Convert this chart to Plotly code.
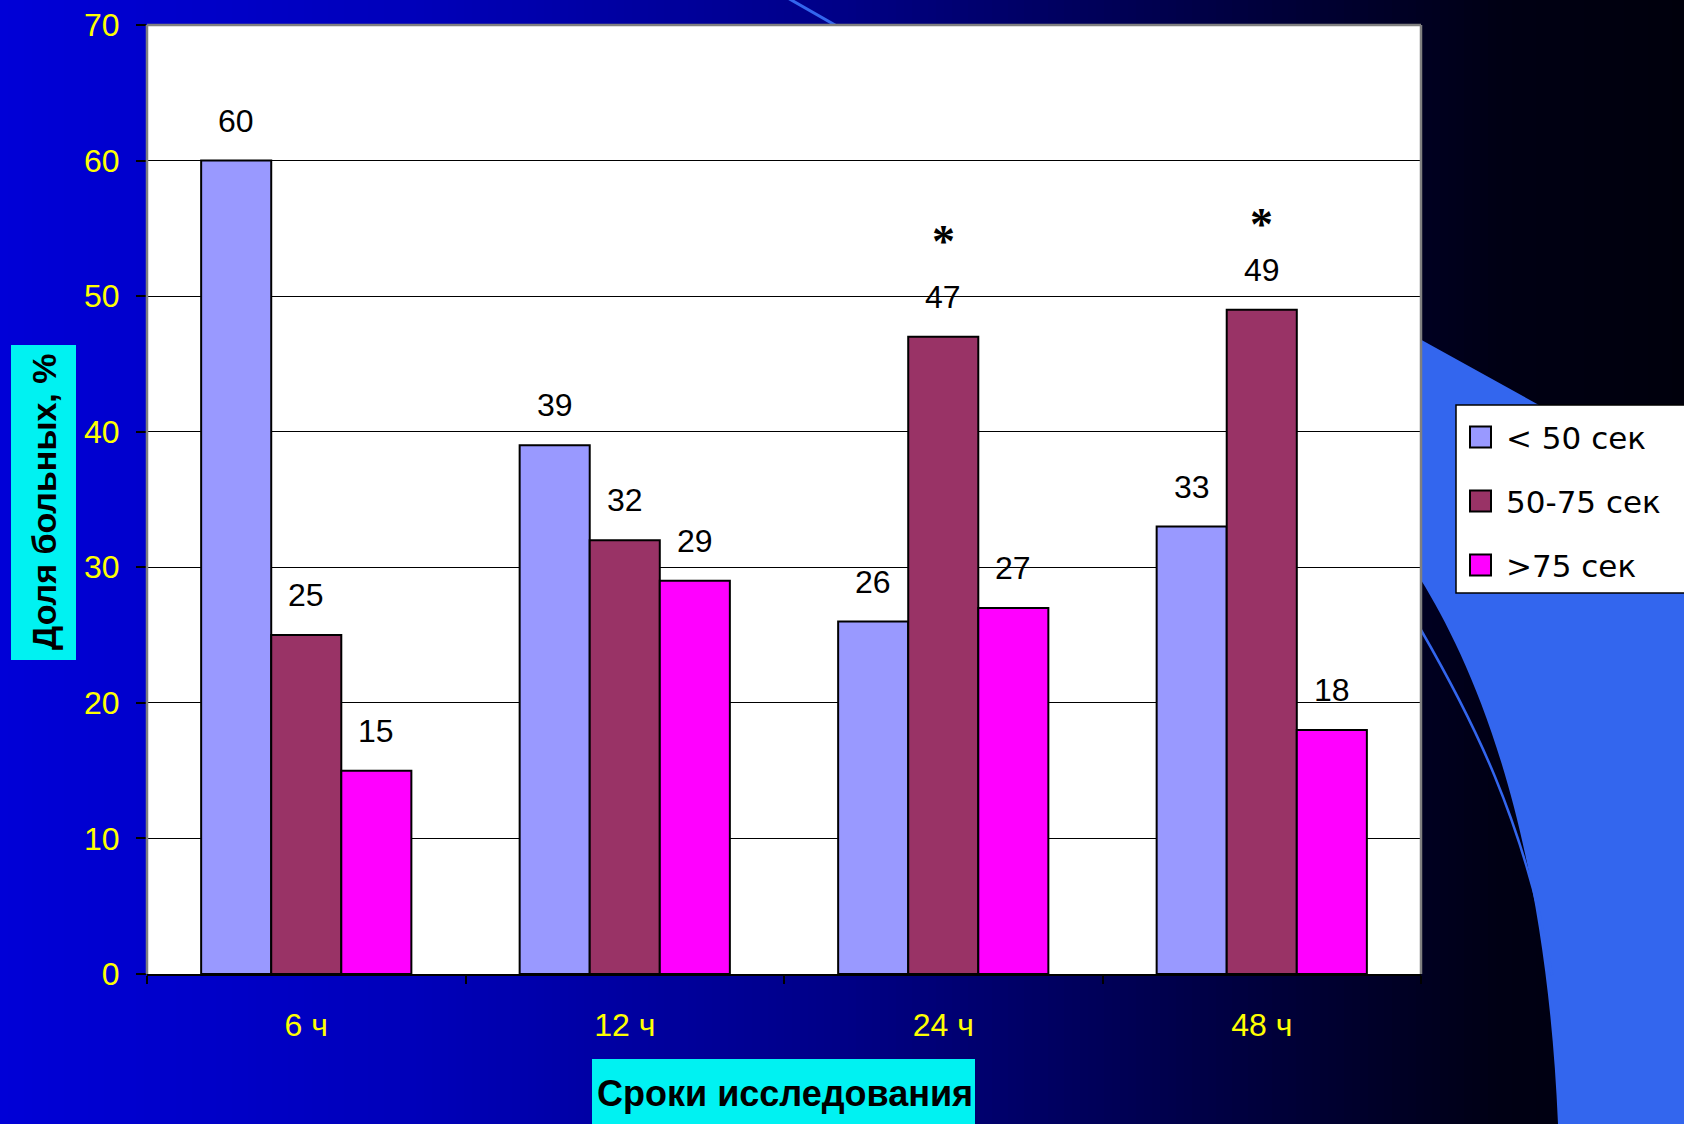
import numpy as np
import plotly.graph_objects as go

# ---- data -------------------------------------------------------------
categories = ["6 ч", "12 ч", "24 ч", "48 ч"]
series_names = ["< 50 сек", "50-75 сек", ">75 сек"]
under_50 = [60, 39, 26, 33]
from_50_to_75 = [25, 32, 47, 49]
over_75 = [15, 29, 27, 18]
y_ticks = [0, 10, 20, 30, 40, 50, 60, 70]
significant = ["24 ч", "48 ч"]          # 50-75 сек bars marked with "*"

# ---- styling ----------------------------------------------------------
bar_colors = ["#9999FF", "#993366", "#FF00FF"]
FIG_W, FIG_H = 1684, 1124
PLOT_L, PLOT_R, PLOT_T, PLOT_B = 147, 1421, 25, 974
BARGAP = 0.34
FONT = "Arial, Liberation Sans, sans-serif"
YELLOW = "#FFFF00"
CYAN = "#00F2F2"
DECOR_BLUE = "#3366EE"
star_shift = {"24 ч": 95, "48 ч": 85}


def px(xp):
    """pixel column -> paper x"""
    return (xp - PLOT_L) / (PLOT_R - PLOT_L)


def py(yp):
    """pixel row -> paper y"""
    return (PLOT_B - yp) / (PLOT_B - PLOT_T)


def pt(a, b):
    return f"{px(a):.5f},{py(b):.5f}"


fig = go.Figure()
series = [under_50, from_50_to_75, over_75]
for name, vals, col in zip(series_names, series, bar_colors):
    fig.add_trace(go.Bar(
        x=categories, y=vals, name=name,
        marker=dict(color=col, line=dict(color="black", width=2)),
        showlegend=False, hoverinfo="x+y+name",
    ))

shapes = []

# slide background: horizontal blue-to-black gradient
grad_x = [0, 420, 840, 1260, 1500, FIG_W]
grad_b = [215, 185, 135, 60, 20, 12]
step = 8
for x0 in range(0, FIG_W, step):
    b = int(round(np.interp(x0 + step / 2, grad_x, grad_b)))
    shapes.append(dict(
        type="rect", xref="paper", yref="paper", layer="below",
        x0=px(x0), x1=px(min(x0 + step + 1, FIG_W + 2)),
        y0=py(FIG_H + 2), y1=py(-2),
        fillcolor=f"rgb(0,0,{b})", line=dict(width=0),
    ))

# decorative swoosh on the right side
swoosh = ("M " + pt(1380, 317) + " L " + pt(1700, 494) + " L " + pt(1700, 1130)
          + " L " + pt(1558, 1130) + " L " + pt(1558, 1124)
          + " C " + pt(1545, 820) + " " + pt(1470, 660) + " " + pt(1421, 580)
          + " L " + pt(1380, 520) + " Z")
shapes.append(dict(type="path", xref="paper", yref="paper", layer="below",
                   path=swoosh, fillcolor=DECOR_BLUE, line=dict(width=0)))
arc = ("M " + pt(1400, 595) + " L " + pt(1421, 630)
       + " C " + pt(1470, 715) + " " + pt(1525, 820) + " " + pt(1552, 975))
shapes.append(dict(type="path", xref="paper", yref="paper", layer="below",
                   path=arc, line=dict(color=DECOR_BLUE, width=2.5)))
shapes.append(dict(type="line", xref="paper", yref="paper", layer="below",
                   x0=px(786), y0=py(-3), x1=px(870), y1=py(45),
                   line=dict(color=DECOR_BLUE, width=3)))

# white plot area
shapes.append(dict(type="rect", xref="paper", yref="paper", layer="below",
                   x0=0, x1=1, y0=0, y1=1, fillcolor="white",
                   line=dict(width=0)))
# plot-area frame (top, left, right)
for (a0, b0, a1, b1) in [(0, 1, 1, 1), (0, 0, 0, 1), (1, 0, 1, 1)]:
    shapes.append(dict(type="line", xref="paper", yref="paper", layer="above",
                       x0=a0, y0=b0, x1=a1, y1=b1,
                       line=dict(color="#808080", width=2.5)))

# axis title boxes
shapes.append(dict(type="rect", xref="paper", yref="paper", layer="above",
                   x0=px(11), x1=px(76), y0=py(660), y1=py(345),
                   fillcolor=CYAN, line=dict(width=0)))
shapes.append(dict(type="rect", xref="paper", yref="paper", layer="above",
                   x0=px(592), x1=px(975), y0=py(1130), y1=py(1059),
                   fillcolor=CYAN, line=dict(width=0)))

# custom legend
shapes.append(dict(type="rect", xref="paper", yref="paper", layer="above",
                   x0=px(1456), x1=px(1692), y0=py(593), y1=py(405),
                   fillcolor="white", line=dict(color="black", width=1.5)))
legend_rows = [437, 501, 565]
annotations = []
for row, name, col in zip(legend_rows, series_names, bar_colors):
    shapes.append(dict(type="rect", xref="paper", yref="paper", layer="above",
                       x0=px(1470), x1=px(1491), y0=py(row + 10.5), y1=py(row - 10.5),
                       fillcolor=col, line=dict(color="black", width=2)))
    annotations.append(dict(xref="paper", yref="paper", x=px(1504), y=py(row + 1),
                            text=name, showarrow=False, xanchor="left",
                            yanchor="middle",
                            font=dict(family="DejaVu Sans, sans-serif", size=31,
                                      color="black")))

# value labels above bars
bar_w = (1 - BARGAP) / len(series)
for k, vals in enumerate(series):
    offset = (k - 1) * bar_w
    for i, v in enumerate(vals):
        annotations.append(dict(x=i + offset, y=v, xref="x", yref="y",
                                text=str(v), showarrow=False,
                                xanchor="center", yanchor="middle",
                                yshift=40,
                                font=dict(family=FONT, size=32, color="black")))

# significance marks on the 50-75 сек bars
for cat in significant:
    i = categories.index(cat)
    annotations.append(dict(x=i, y=from_50_to_75[i], xref="x", yref="y",
                            text="*", showarrow=False,
                            xanchor="center", yanchor="middle",
                            yshift=star_shift[cat],
                            font=dict(family="Liberation Serif, Times New Roman, serif",
                                      size=46, color="black", weight="bold")))

# axis titles
annotations.append(dict(xref="paper", yref="paper", x=px(44), y=py(502),
                        xanchor="center", yanchor="middle",
                        text="Доля больных, %", textangle=-90, showarrow=False,
                        font=dict(family=FONT, size=34, color="black",
                                  weight="bold")))
annotations.append(dict(xref="paper", yref="paper", x=px(785), y=py(1093),
                        xanchor="center", yanchor="middle",
                        text="Сроки исследования", showarrow=False,
                        font=dict(family=FONT, size=36, color="black",
                                  weight="bold")))

fig.update_layout(
    width=FIG_W, height=FIG_H, autosize=False,
    margin=dict(l=PLOT_L, r=FIG_W - PLOT_R, t=PLOT_T, b=FIG_H - PLOT_B, pad=0),
    paper_bgcolor="#000000", plot_bgcolor="rgba(0,0,0,0)",
    barmode="group", bargap=BARGAP, bargroupgap=0,
    showlegend=False,
    shapes=shapes, annotations=annotations,
    xaxis=dict(
        type="category", tickson="boundaries", ticks="outside", ticklen=8,
        tickwidth=1.5, tickcolor="black", showgrid=False,
        showline=True, linecolor="black", linewidth=2,
        tickfont=dict(family=FONT, size=32, color=YELLOW),
        ticklabelstandoff=22, fixedrange=True, automargin=False,
    ),
    yaxis=dict(
        range=[0, 70], tickvals=y_ticks, ticks="outside", ticklen=10,
        tickwidth=1.5, tickcolor="black", showgrid=True, gridcolor="black",
        gridwidth=1, zeroline=False, showline=False,
        tickfont=dict(family=FONT, size=32, color=YELLOW),
        ticklabelstandoff=10, fixedrange=True, automargin=False,
    ),
)

fig.write_html("out.html")
